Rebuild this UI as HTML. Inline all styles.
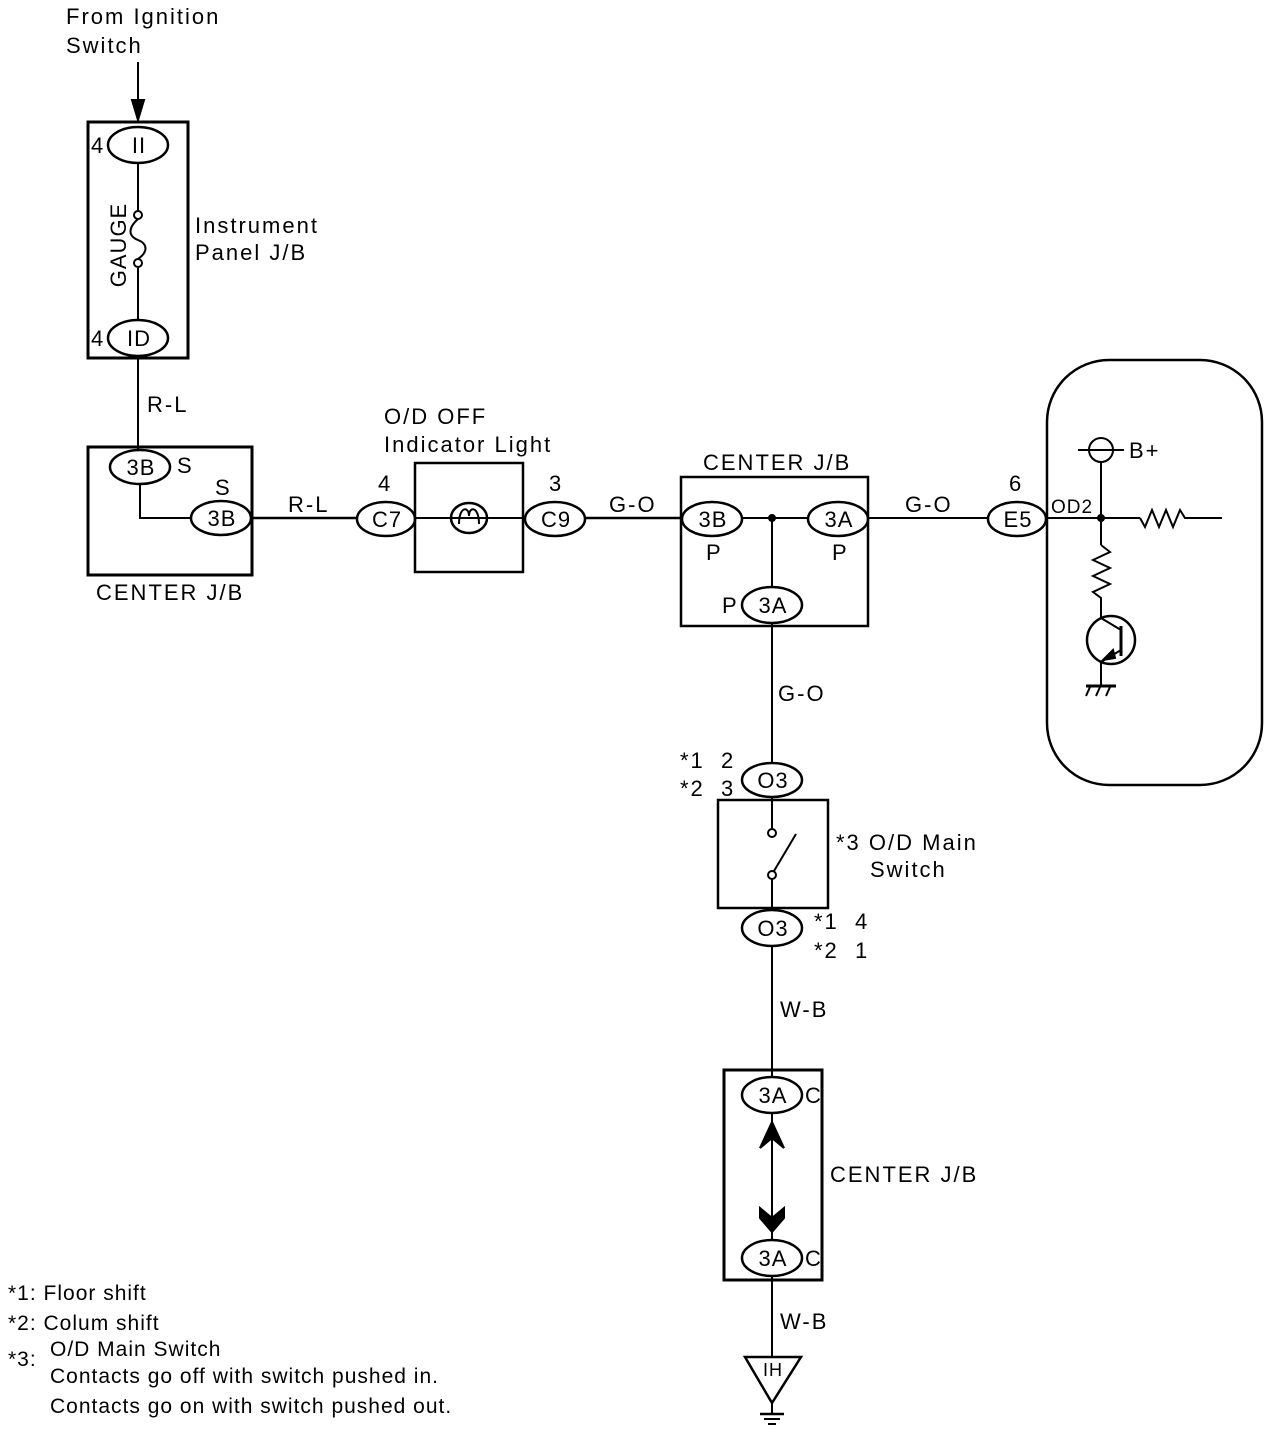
<!DOCTYPE html>
<html><head><meta charset="utf-8"><style>
html,body{margin:0;padding:0;background:#fff}
svg{display:block}
text{font-family:"Liberation Sans",sans-serif;font-size:22px;letter-spacing:2px;fill:#000}
.m{text-anchor:middle;letter-spacing:1px}
.f{font-size:21px;letter-spacing:1px}
</style></head><body>
<svg width="1280" height="1438" viewBox="0 0 1280 1438" xmlns="http://www.w3.org/2000/svg">
<g fill="none" stroke="#000" stroke-width="2">
<line x1="138" y1="62" x2="138" y2="112"/>
<polygon points="132,100 144,100 138,120" fill="#000"/>
<rect x="88" y="122" width="100" height="236" stroke-width="3"/>
<ellipse cx="138" cy="145" rx="30" ry="18" stroke-width="2.5"/>
<ellipse cx="138" cy="338" rx="30" ry="18" stroke-width="2.5"/>
<line x1="138" y1="163" x2="138" y2="211"/>
<circle cx="138" cy="215" r="4"/>
<path d="M138,219 C128,228 128,236 138,240 C148,244 148,252 138,259"/>
<circle cx="138" cy="263" r="4"/>
<line x1="138" y1="267" x2="138" y2="320"/>
<line x1="138" y1="356" x2="138" y2="450"/>
<rect x="88" y="447" width="164" height="128" stroke-width="3"/>
<ellipse cx="140" cy="467" rx="30" ry="17" stroke-width="2.5"/>
<ellipse cx="221" cy="518" rx="30" ry="17" stroke-width="2.5"/>
<polyline points="140,484 140,518 191,518"/>
<line x1="251" y1="518" x2="357" y2="518" stroke-width="2.5"/>
<ellipse cx="386" cy="519" rx="29" ry="17" stroke-width="2.5"/>
<rect x="415" y="463" width="108" height="109" stroke-width="2.5"/>
<line x1="415" y1="518" x2="523" y2="518"/>
<ellipse cx="469" cy="518" rx="18" ry="15" stroke-width="2.5"/>
<path d="M459,524 C459,506 469,506 469,516 C469,506 479,506 479,524"/>
<ellipse cx="555" cy="519" rx="30" ry="17" stroke-width="2.5"/>
<line x1="585" y1="518" x2="682" y2="518" stroke-width="2.5"/>
<rect x="681" y="477" width="187" height="149" stroke-width="2.5"/>
<ellipse cx="712" cy="519" rx="30" ry="17" stroke-width="2.5"/>
<ellipse cx="838" cy="519" rx="30" ry="17" stroke-width="2.5"/>
<line x1="742" y1="518" x2="808" y2="518"/>
<circle cx="772" cy="518" r="3" fill="#000"/>
<line x1="772" y1="518" x2="772" y2="588"/>
<ellipse cx="772" cy="605" rx="30" ry="18" stroke-width="2.5"/>
<line x1="868" y1="518" x2="988" y2="518"/>
<ellipse cx="1017" cy="519" rx="29" ry="17" stroke-width="2.5"/>
<rect x="1047" y="360" width="215" height="425" rx="62" ry="62" stroke-width="2.5"/>
<line x1="1046" y1="518" x2="1140" y2="518"/>
<polyline points="1140,518 1145,527 1152,510 1159,527 1166,510 1173,527 1180,510 1185,518 1222,518"/>
<circle cx="1101" cy="518" r="3" fill="#000"/>
<circle cx="1101" cy="450" r="12"/>
<line x1="1078" y1="450" x2="1124" y2="450"/>
<line x1="1101" y1="462" x2="1101" y2="545"/>
<polyline points="1101,545 1110,552 1093,560 1110,568 1093,576 1110,584 1093,592 1101,598 1101,618"/>
<circle cx="1111" cy="640" r="24" stroke-width="2.5"/>
<line x1="1121" y1="626" x2="1121" y2="656" stroke-width="3"/>
<line x1="1101" y1="618" x2="1121" y2="630"/>
<line x1="1121" y1="650" x2="1101" y2="662"/>
<polygon points="1103,660 1113,650 1115,658" fill="#000"/>
<line x1="1101" y1="662" x2="1101" y2="685"/>
<line x1="1086" y1="686" x2="1116" y2="686" stroke-width="3"/>
<line x1="1090" y1="687" x2="1086" y2="696"/><line x1="1100" y1="687" x2="1096" y2="696"/><line x1="1110" y1="687" x2="1106" y2="696"/>
<line x1="772" y1="623" x2="772" y2="763"/>
<ellipse cx="772" cy="780" rx="30" ry="17" stroke-width="2.5"/>
<rect x="718" y="800" width="110" height="108" stroke-width="2.5"/>
<line x1="772" y1="798" x2="772" y2="828"/>
<circle cx="772" cy="833" r="4"/>
<circle cx="772" cy="875" r="4"/>
<line x1="772" y1="879" x2="772" y2="910"/>
<line x1="774" y1="871" x2="796" y2="834"/>
<ellipse cx="772" cy="928" rx="30" ry="18" stroke-width="2.5"/>
<line x1="772" y1="946" x2="772" y2="1077"/>
<rect x="724" y="1070" width="98" height="210" stroke-width="3"/>
<ellipse cx="772" cy="1095" rx="30" ry="18" stroke-width="2.5"/>
<ellipse cx="772" cy="1258" rx="30" ry="18" stroke-width="2.5"/>
<line x1="772" y1="1113" x2="772" y2="1240"/>
<polygon points="760,1148 772,1122 784,1148 772,1138" fill="#000"/>
<polygon points="760,1208 772,1218 784,1208 784,1218 772,1232 760,1218" fill="#000"/>
<line x1="772" y1="1276" x2="772" y2="1358"/>
<polygon points="745,1357 801,1357 772,1403" stroke-width="2.5"/>
<line x1="772" y1="1403" x2="772" y2="1413"/>
<line x1="760" y1="1414" x2="784" y2="1414" stroke-width="2.5"/>
<line x1="764" y1="1419" x2="780" y2="1419"/>
<line x1="768" y1="1424" x2="776" y2="1424"/>
</g>
<text x="66" y="24">From Ignition</text>
<text x="66" y="53">Switch</text>
<text x="91" y="153">4</text>
<text class="m" x="139" y="153">II</text>
<text x="91" y="346">4</text>
<text class="m" x="139" y="346">ID</text>
<text class="m" transform="translate(126,245) rotate(-90)">GAUGE</text>
<text x="195" y="233">Instrument</text>
<text x="195" y="260">Panel J/B</text>
<text x="147" y="412">R-L</text>
<text class="m" x="141" y="475">3B</text>
<text x="177" y="473">S</text>
<text x="215" y="495">S</text>
<text class="m" x="222" y="526">3B</text>
<text x="96" y="600">CENTER J/B</text>
<text x="288" y="512">R-L</text>
<text x="378" y="491">4</text>
<text class="m" x="387" y="527">C7</text>
<text x="384" y="424">O/D OFF</text>
<text x="384" y="452">Indicator Light</text>
<text x="549" y="491">3</text>
<text class="m" x="556" y="527">C9</text>
<text x="609" y="512">G-O</text>
<text x="703" y="470">CENTER J/B</text>
<text class="m" x="713" y="527">3B</text>
<text x="706" y="560">P</text>
<text class="m" x="839" y="527">3A</text>
<text x="832" y="560">P</text>
<text x="722" y="613">P</text>
<text class="m" x="773" y="613">3A</text>
<text x="905" y="512">G-O</text>
<text x="1009" y="491">6</text>
<text class="m" x="1018" y="527">E5</text>
<text x="1051" y="513" style="font-size:19px;letter-spacing:1px">OD2</text>
<text x="1129" y="458">B+</text>
<text x="778" y="701">G-O</text>
<text x="680" y="768" xml:space="preserve">*1  2</text>
<text x="680" y="796" xml:space="preserve">*2  3</text>
<text class="m" x="773" y="788">O3</text>
<text x="836" y="850">*3 O/D Main</text>
<text x="870" y="877">Switch</text>
<text class="m" x="773" y="936">O3</text>
<text x="814" y="929" xml:space="preserve">*1  4</text>
<text x="814" y="958" xml:space="preserve">*2  1</text>
<text x="780" y="1017">W-B</text>
<text class="m" x="773" y="1103">3A</text>
<text x="805" y="1103">C</text>
<text x="830" y="1182">CENTER J/B</text>
<text class="m" x="773" y="1266">3A</text>
<text x="805" y="1266">C</text>
<text x="780" y="1329">W-B</text>
<text class="m" x="773" y="1376" style="font-size:18px">IH</text>
<text class="f" x="8" y="1300">*1: Floor shift</text>
<text class="f" x="8" y="1330">*2: Colum shift</text>
<text class="f" x="8" y="1366">*3:</text>
<text class="f" x="50" y="1356">O/D Main Switch</text>
<text class="f" x="50" y="1383">Contacts go off with switch pushed in.</text>
<text class="f" x="50" y="1413">Contacts go on with switch pushed out.</text>
</svg>
</body></html>
